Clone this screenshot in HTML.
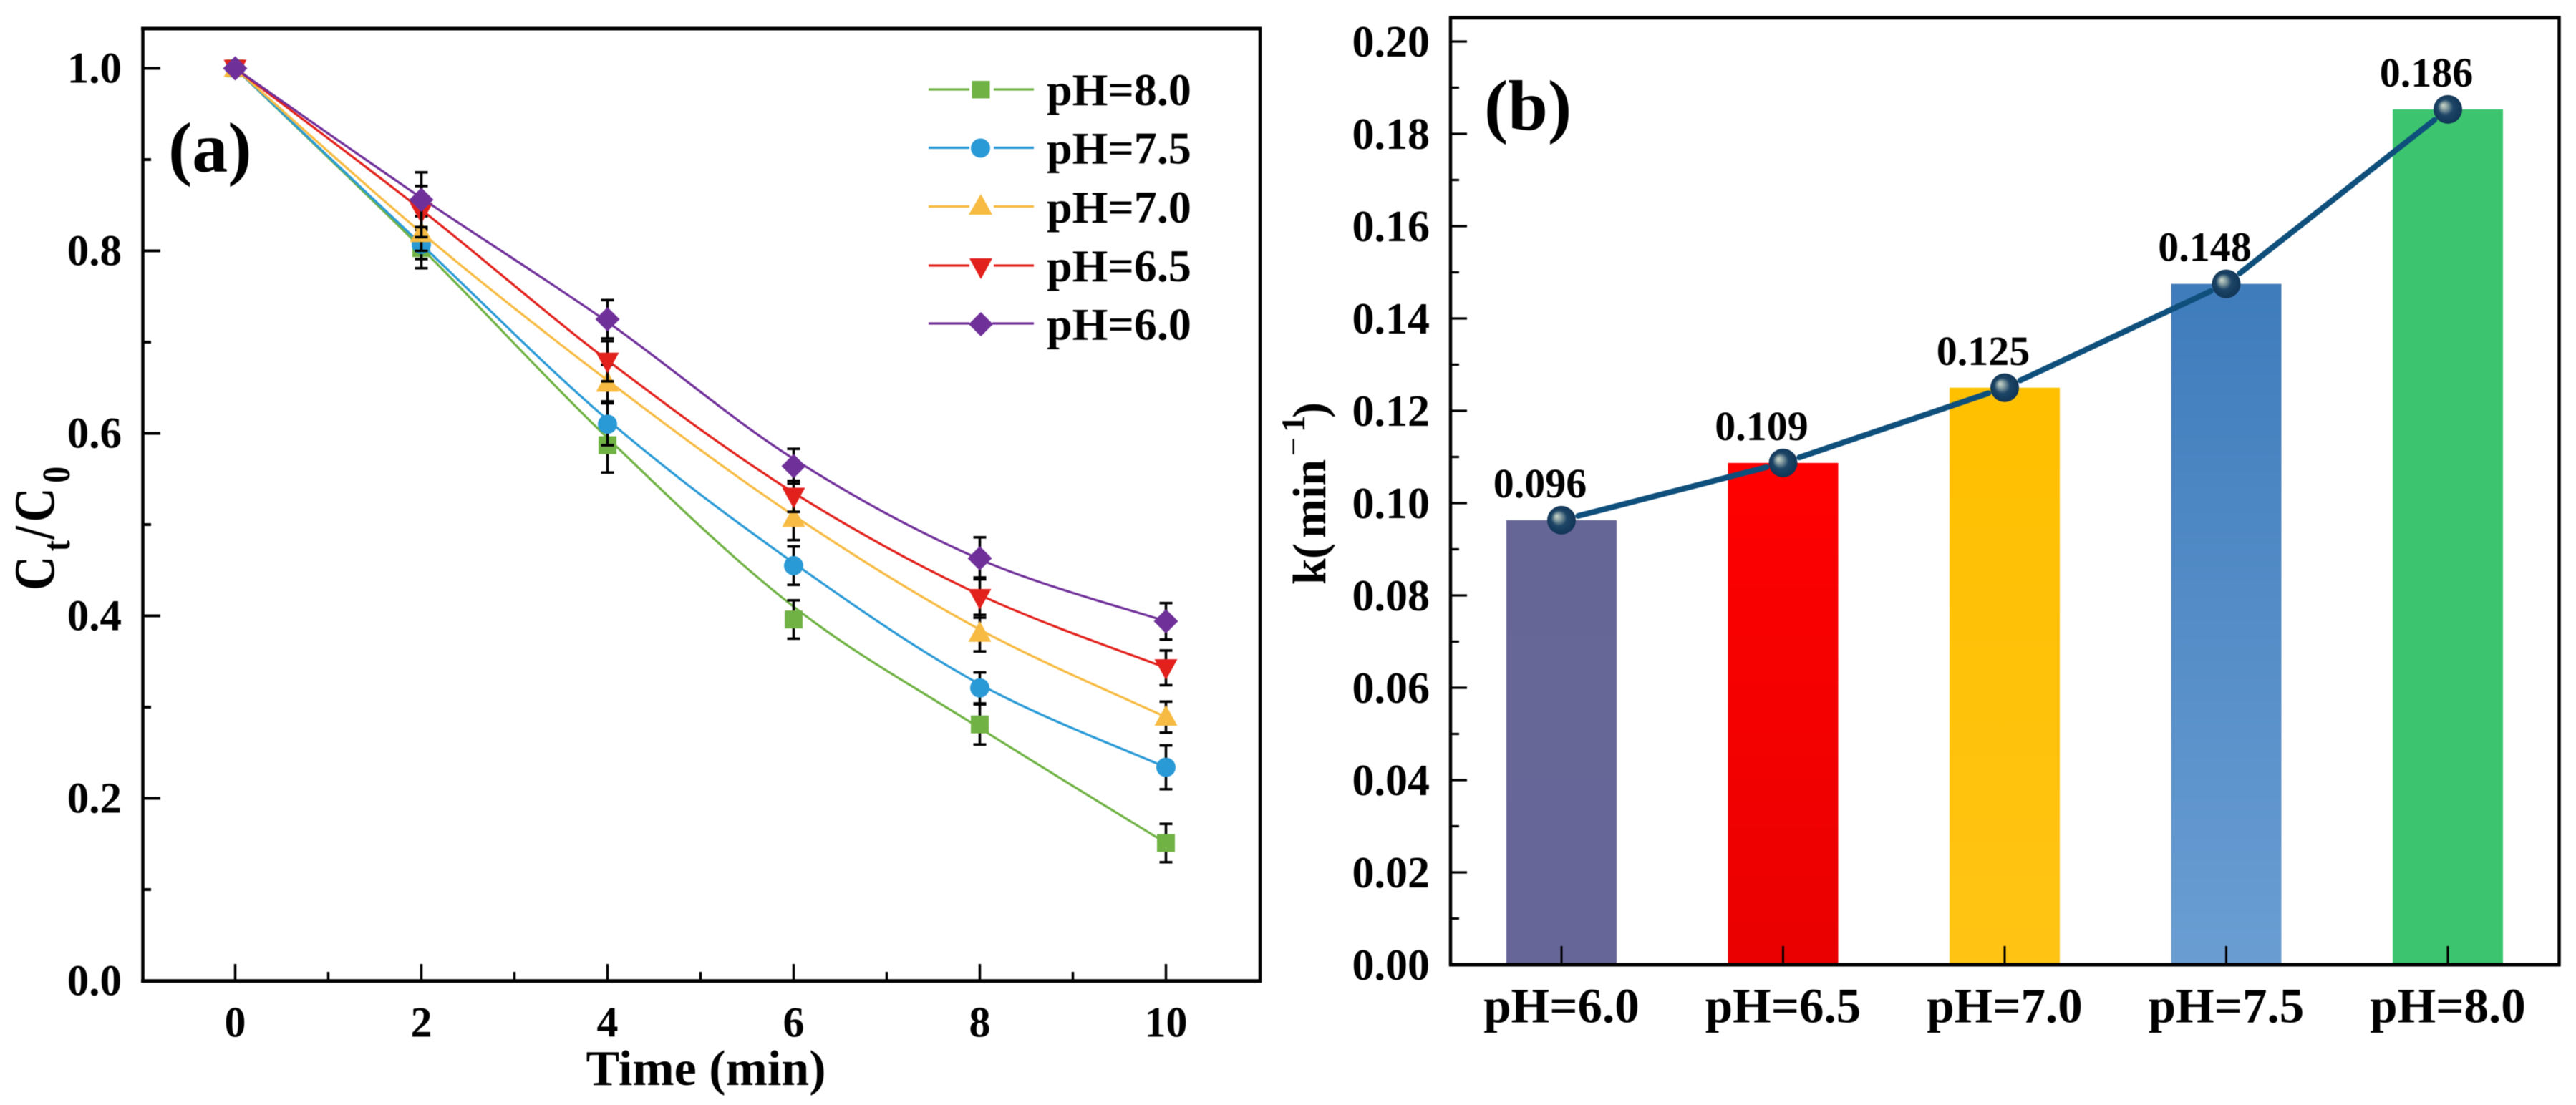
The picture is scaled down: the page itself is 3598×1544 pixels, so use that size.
<!DOCTYPE html>
<html lang="en">
<head>
<meta charset="utf-8">
<title>Degradation kinetics at different pH</title>
<style>
html,body{margin:0;padding:0;background:#fff}
#figure{display:block;width:3598px;height:1544px;background:#fff;filter:blur(0.6px)}
text{font-family:"Liberation Serif",serif;font-weight:bold;fill:#000}
.sl{fill:none;stroke-width:3.2}
.p80{stroke:#70b244;fill:#70b244}
.p75{stroke:#2a9ad6;fill:#2a9ad6}
.p70{stroke:#f7bb43;fill:#f7bb43}
.p65{stroke:#e2211c;fill:#e2211c}
.p60{stroke:#70309a;fill:#70309a}
.mk{stroke:none}
.leg{font-size:64px}
.err{stroke:#000;stroke-width:3.6;fill:none}
</style>
</head>
<body>
<svg id="figure" xmlns="http://www.w3.org/2000/svg" width="3598" height="1544" viewBox="0 0 3598 1544">
  <defs>
    <linearGradient id="bar-fill-0" x1="0" y1="0" x2="0" y2="1"><stop offset="0" stop-color="#666696"/><stop offset="1" stop-color="#666699"/></linearGradient>
    <linearGradient id="bar-fill-1" x1="0" y1="0" x2="0" y2="1"><stop offset="0" stop-color="#ff0000"/><stop offset="1" stop-color="#ea0000"/></linearGradient>
    <linearGradient id="bar-fill-2" x1="0" y1="0" x2="0" y2="1"><stop offset="0" stop-color="#ffc000"/><stop offset="1" stop-color="#ffc414"/></linearGradient>
    <linearGradient id="bar-fill-3" x1="0" y1="0" x2="0" y2="1"><stop offset="0" stop-color="#3f7cbc"/><stop offset="1" stop-color="#6a9ed3"/></linearGradient>
    <linearGradient id="bar-fill-4" x1="0" y1="0" x2="0" y2="1"><stop offset="0" stop-color="#3cc56e"/><stop offset="1" stop-color="#3cc56e"/></linearGradient>
    <radialGradient id="ball-fill" cx="0.5" cy="0.5" r="0.55" fx="0.33" fy="0.36">
      <stop offset="0" stop-color="#cdd8cc"/>
      <stop offset="0.2" stop-color="#8fa5a6"/>
      <stop offset="0.5" stop-color="#1d4566"/>
      <stop offset="1" stop-color="#0f3253"/>
    </radialGradient>
  </defs>

  <g id="panel-a">
    <g id="a-series"></g>
    <g id="a-ticks"></g>
    <line x1="199.5" y1="38" x2="199.5" y2="1373" stroke="#000" stroke-width="4.5"/>
    <line x1="1760" y1="38" x2="1760" y2="1373" stroke="#000" stroke-width="4.5"/>
    <line x1="197" y1="40" x2="1762" y2="40" stroke="#000" stroke-width="5"/>
    <line x1="197" y1="1370.7" x2="1762" y2="1370.7" stroke="#000" stroke-width="5"/>

    <text x="235" y="240" font-size="100">(a)</text>
    <text x="986" y="1516" font-size="70" text-anchor="middle">Time (min)</text>
    <text transform="translate(75,825) rotate(-90) scale(.83,1)" font-size="80"><tspan x="0" y="0">C</tspan><tspan x="66" y="22" font-size="55">t</tspan><tspan x="86" y="0">/</tspan><tspan x="115" y="0">C</tspan><tspan x="181" y="22" font-size="55">0</tspan></text>

    <g>
      <g>
        <line class="p80" x1="1297" x2="1354" y1="125" y2="125" stroke-width="3.2"/><line class="p80" x1="1388" x2="1444" y1="125" y2="125" stroke-width="3.2"/>
        <rect class="p80 mk" x="1357.5" y="113" width="25" height="24.5"/>
        <text class="leg" x="1462" y="147">pH=8.0</text>
      </g>
      <g>
        <line class="p75" x1="1297" x2="1354" y1="206.500" y2="206.500" stroke-width="3.2"/><line class="p75" x1="1388" x2="1444" y1="206.500" y2="206.500" stroke-width="3.2"/>
        <circle class="p75 mk" cx="1369.500" cy="207" r="13.500"/>
        <text class="leg" x="1462" y="228.500">pH=7.5</text>
      </g>
      <g>
        <line class="p70" x1="1297" x2="1354" y1="288.500" y2="288.500" stroke-width="3.2"/><line class="p70" x1="1388" x2="1444" y1="288.500" y2="288.500" stroke-width="3.2"/>
        <polygon class="p70 mk" points="1370,271 1386,300 1353,300"/>
        <text class="leg" x="1462" y="311">pH=7.0</text>
      </g>
      <g>
        <line class="p65" x1="1297" x2="1354" y1="371" y2="371" stroke-width="3.2"/><line class="p65" x1="1388" x2="1444" y1="371" y2="371" stroke-width="3.2"/>
        <polygon class="p65 mk" points="1354,361 1386,361 1370,390"/>
        <text class="leg" x="1462" y="393">pH=6.5</text>
      </g>
      <g>
        <line class="p60" x1="1297" x2="1354" y1="452" y2="452" stroke-width="3.2"/><line class="p60" x1="1386" x2="1444" y1="452" y2="452" stroke-width="3.2"/>
        <polygon class="p60 mk" points="1370,436 1387,453 1370,470 1353,453"/>
        <text class="leg" x="1462" y="474.500">pH=6.0</text>
      </g>
    </g>
  </g>

  <g id="panel-b">
    <g id="b-bars"></g>
    <g id="b-ticks"></g>
    <line x1="2026" y1="23" x2="2026" y2="1350" stroke="#000" stroke-width="4.500"/>
    <line x1="3574.500" y1="23" x2="3574.500" y2="1350" stroke="#000" stroke-width="4.500"/>
    <line x1="2024" y1="24.700" x2="3576.500" y2="24.700" stroke="#000" stroke-width="5"/>
    <line x1="2024" y1="1348" x2="3576.500" y2="1348" stroke="#000" stroke-width="5"/>
    <g id="b-line"></g>

    <text x="2073" y="181" font-size="100">(b)</text>
    <text transform="translate(1851,817) rotate(-90)" font-size="66"><tspan x="0" y="0">k</tspan><tspan x="36" y="0">(</tspan><tspan x="65" y="0">min</tspan><tspan x="180" y="-29" font-size="46" font-weight="normal">−</tspan><tspan x="213" y="-29" font-size="47">1</tspan><tspan x="233" y="0">)</tspan></text>
  </g>
</svg>

<script>
// ---- Panel (a) data ----
var times = [0, 2, 4, 6, 8, 10];
// measured points (markers and error bars)
var ph80Values = [1, 0.803, 0.587, 0.396, 0.281, 0.151];
var ph75Values = [1, 0.807, 0.610, 0.455, 0.321, 0.234];
var ph70Values = [1, 0.819, 0.655, 0.507, 0.381, 0.289];
var ph65Values = [1, 0.843, 0.679, 0.531, 0.420, 0.343];
var ph60Values = [1, 0.856, 0.725, 0.564, 0.463, 0.394];
// fitted curve heights read at the same times (the drawn lines do not pass exactly through the markers)
var ph80Curve = [1, 0.803, 0.595, 0.410, 0.277, 0.151];
var ph75Curve = [1, 0.807, 0.615, 0.458, 0.325, 0.234];
var ph70Curve = [1, 0.820, 0.658, 0.510, 0.385, 0.289];
var ph65Curve = [1, 0.845, 0.680, 0.535, 0.423, 0.343];
var ph60Curve = [1, 0.858, 0.722, 0.572, 0.462, 0.394];
var ph80Errors = [0, 0.022, 0.030, 0.021, 0.022, 0.021];
var ph75Errors = [0, 0.016, 0.023, 0.021, 0.017, 0.024];
var ph70Errors = [0, 0.019, 0.020, 0.024, 0.020, 0.017];
var ph65Errors = [0, 0.028, 0.022, 0.017, 0.022, 0.019];
var ph60Errors = [0, 0.030, 0.021, 0.019, 0.023, 0.020];
var aXTickLabels = ["0", "2", "4", "6", "8", "10"];
var aYTickValues = [0, 0.2, 0.4, 0.6, 0.8, 1.0];
var aYTickLabels = ["0.0", "0.2", "0.4", "0.6", "0.8", "1.0"];
var aYMinorValues = [0.1, 0.3, 0.5, 0.7, 0.9];
var aXMinorValues = [1, 3, 5, 7, 9];

// ---- Panel (b) data ----
var phCategories = ["pH=6.0", "pH=6.5", "pH=7.0", "pH=7.5", "pH=8.0"];
var rateValues = [0.0963, 0.1087, 0.125, 0.1475, 0.1853];
var ratePrinted = ["0.096", "0.109", "0.125", "0.148", "0.186"];
var bYTickValues = [0, 0.02, 0.04, 0.06, 0.08, 0.10, 0.12, 0.14, 0.16, 0.18, 0.20];
var bYTickLabels = ["0.00", "0.02", "0.04", "0.06", "0.08", "0.10", "0.12", "0.14", "0.16", "0.18", "0.20"];
var bYMinorValues = [0.01, 0.03, 0.05, 0.07, 0.09, 0.11, 0.13, 0.15, 0.17, 0.19];

var NS = "http://www.w3.org/2000/svg";
function mk(tag, parent, attrs) {
  var el = document.createElementNS(NS, tag);
  for (var k in attrs) { el.setAttribute(k, attrs[k]); }
  parent.appendChild(el);
  return el;
}

// ---- Axis functions ----
function xA(t) { return 328.5 + 130 * t; }
function yA(v) { return 1370.5 - 1275 * v; }
function xB(i) { return 2181 + 309.5 * i; }
function yB(v) { return 1348 - 6450 * v; }

// ---- Panel (a) ticks ----
var aTicks = document.getElementById("a-ticks");
aYTickValues.forEach(function (v, i) {
  var tick = mk("line", aTicks, { x1: 199.5, x2: 224, y1: yA(v), y2: yA(v), stroke: "#000", "stroke-width": 4 });
  
  
  var lab = mk("text", aTicks, { x: 170, y: yA(v) + 20, "text-anchor": "end", "font-size": 61 });
  lab.textContent = aYTickLabels[i];
  
  
});
aYMinorValues.forEach(function (v) {
  var tick = mk("line", aTicks, { x1: 199.5, x2: 211, y1: yA(v), y2: yA(v), stroke: "#000", "stroke-width": 4 });
  
  
});
times.forEach(function (t, i) {
  var tick = mk("line", aTicks, { x1: xA(t), x2: xA(t), y1: 1347, y2: 1370.5, stroke: "#000", "stroke-width": 3.5 });
  
  
  var lab = mk("text", aTicks, { x: xA(t), y: 1448.5, "text-anchor": "middle", "font-size": 60 });
  lab.textContent = aXTickLabels[i];
  
  
});
aXMinorValues.forEach(function (t) {
  var tick = mk("line", aTicks, { x1: xA(t), x2: xA(t), y1: 1358, y2: 1370.5, stroke: "#000", "stroke-width": 3.5 });
  
  
});

// ---- Panel (a) series ----
function smoothPath(xs, ys) {
  var d = "M" + xs[0] + " " + ys[0];
  for (var i = 0; i < xs.length - 1; i++) {
    var i0 = Math.max(0, i - 1), i3 = Math.min(xs.length - 1, i + 2);
    var c1x = xs[i] + (xs[i + 1] - xs[i0]) / 6, c1y = ys[i] + (ys[i + 1] - ys[i0]) / 6;
    var c2x = xs[i + 1] - (xs[i3] - xs[i]) / 6, c2y = ys[i + 1] - (ys[i3] - ys[i]) / 6;
    d += " C" + c1x + " " + c1y + " " + c2x + " " + c2y + " " + xs[i + 1] + " " + ys[i + 1];
  }
  return d;
}
function drawMarker(group, shape, cls, cx, cy) {
  if (shape === "square") {
    return mk("rect", group, { "class": cls + " mk", x: cx - 12.5, y: cy - 12.5, width: 25, height: 25 });
  }
  if (shape === "circle") {
    return mk("circle", group, { "class": cls + " mk", cx: cx, cy: cy, r: 13.5 });
  }
  if (shape === "up") {
    return mk("polygon", group, { "class": cls + " mk", points: [cx, cy - 17, cx + 16, cy + 12, cx - 16, cy + 12].join(",") });
  }
  if (shape === "down") {
    return mk("polygon", group, { "class": cls + " mk", points: [cx - 16, cy - 12, cx + 16, cy - 12, cx, cy + 17].join(",") });
  }
  return mk("polygon", group, { "class": cls + " mk", points: [cx, cy - 17, cx + 17, cy, cx, cy + 17, cx - 17, cy].join(",") });
}
function drawSeries(values, curve, errors, cls, shape) {
  var parent = document.getElementById("a-series");
  var g = mk("g", parent, {});
  
  
  var xs = times.map(xA), ys = curve.map(yA);
  var line = mk("path", g, { "class": "sl " + cls, d: smoothPath(xs, ys) });
  line.style.fill = "none";
  
  
  values.forEach(function (v, i) {
    if (errors[i] > 0) {
      var hi = yA(v + errors[i]), lo = yA(v - errors[i]), x = xA(times[i]);
      var bar = mk("path", g, { "class": "err", d: "M" + x + " " + hi + "V" + lo + "M" + (x - 9) + " " + hi + "H" + (x + 9) + "M" + (x - 9) + " " + lo + "H" + (x + 9) });
      
      
    }
    var m = drawMarker(g, shape, cls, xA(times[i]), yA(v));
    
    
  });
}
drawSeries(ph80Values, ph80Curve, ph80Errors, "p80", "square");
drawSeries(ph75Values, ph75Curve, ph75Errors, "p75", "circle");
drawSeries(ph70Values, ph70Curve, ph70Errors, "p70", "up");
drawSeries(ph65Values, ph65Curve, ph65Errors, "p65", "down");
drawSeries(ph60Values, ph60Curve, ph60Errors, "p60", "diamond");

// ---- Panel (b) bars ----
var bBars = document.getElementById("b-bars");
rateValues.forEach(function (v, i) {
  var bar = mk("rect", bBars, { x: xB(i) - 77, y: yB(v), width: 154, height: yB(0) - yB(v), fill: "url(#bar-fill-" + i + ")" });
  
  
});

// ---- Panel (b) ticks ----
var bTicks = document.getElementById("b-ticks");
bYTickValues.forEach(function (v, i) {
  var tick = mk("line", bTicks, { x1: 2026, x2: 2049, y1: yB(v), y2: yB(v), stroke: "#000", "stroke-width": 3.2 });
  
  
  var lab = mk("text", bTicks, { x: 1997, y: yB(v) + 21, "text-anchor": "end", "font-size": 62 });
  lab.textContent = bYTickLabels[i];
  
  
});
bYMinorValues.forEach(function (v) {
  var tick = mk("line", bTicks, { x1: 2026, x2: 2038, y1: yB(v), y2: yB(v), stroke: "#000", "stroke-width": 3.2 });
  
  
});
phCategories.forEach(function (c, i) {
  var tick = mk("line", bTicks, { x1: xB(i), x2: xB(i), y1: 1322, y2: 1348, stroke: "#000", "stroke-width": 3 });
  
  
  var lab = mk("text", bTicks, { x: xB(i), y: 1428.5, "text-anchor": "middle", "font-size": 69 });
  lab.textContent = c;
  
  
});

// ---- Panel (b) trend line, balls, value labels ----
var bLine = document.getElementById("b-line");
rateValues.forEach(function (v, i) {
  if (i < rateValues.length - 1) {
    var x1 = xB(i), y1 = yB(v), x2 = xB(i + 1), y2 = yB(rateValues[i + 1]);
    var len = Math.sqrt((x2 - x1) * (x2 - x1) + (y2 - y1) * (y2 - y1));
    var ux = (x2 - x1) / len, uy = (y2 - y1) / len;
    var seg = mk("line", bLine, { x1: x1 + ux * 24, y1: y1 + uy * 24, x2: x2 - ux * 24, y2: y2 - uy * 24, stroke: "#0e4f7c", "stroke-width": 8, "stroke-linecap": "round" });
    
    
  }
});
rateValues.forEach(function (v, i) {
  var ball = mk("circle", bLine, { cx: xB(i), cy: yB(v), r: 20, fill: "url(#ball-fill)" });
  
  
  var lab = mk("text", bLine, { x: xB(i) - 30, y: yB(v) - 32, "text-anchor": "middle", "font-size": 58 });
  lab.textContent = ratePrinted[i];
  
  
});
</script>
</body>
</html>
